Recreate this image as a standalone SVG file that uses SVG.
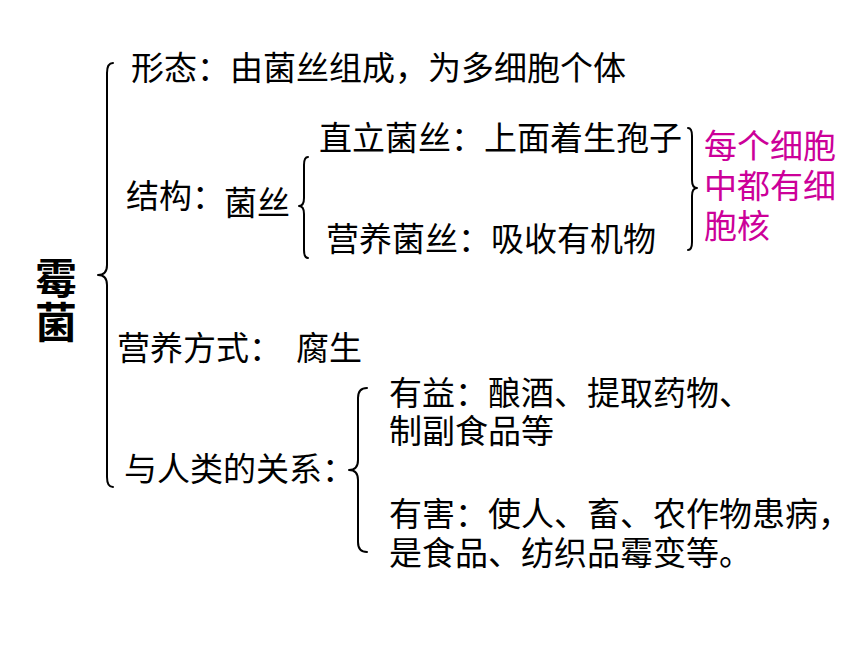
<svg xmlns="http://www.w3.org/2000/svg" width="860" height="645" viewBox="0 0 860 645">
<style>
.t{font-family:"Noto Sans CJK SC","Noto Sans CJK JP",sans-serif;font-size:33px;fill:#000}
.title{font-family:"Noto Sans CJK SC","Noto Sans CJK JP",sans-serif;font-size:42px;font-weight:bold;fill:#000;text-anchor:middle}
.pink{fill:#CC0099}
.brace{fill:none;stroke:#000;stroke-width:2;stroke-linecap:round;stroke-linejoin:round}
</style>
<rect width="860" height="645" fill="#fff"/>
<g id="connectors">
<path class="brace" d="M113,63 Q107,63 107,73 L107,265 Q107,275 98,275 Q107,275 107,285 L107,477 Q107,487 113,487"/>
<path class="brace" d="M308,157 Q304,157 304,165 L304,198 Q304,206 299,206 Q304,206 304,214 L304,250 Q304,258 308,258"/>
<path class="brace" d="M367,388 Q358,388 358,398 L358,460 Q358,470 349,470 Q358,470 358,480 L358,542 Q358,552 367,552"/>
<path class="brace" d="M688,128 Q692,128 692,136 L692,180 Q692,188 697,188 Q692,188 692,196 L692,242 Q692,250 688,250"/>
</g>
<g id="root">
<text class="title" x="56" y="294">霉</text>
<text class="title" x="56" y="338">菌</text>
</g>
<g id="morphology">
<text class="t" x="131" y="80">形态：由菌丝组成，为多细胞个体</text>
</g>
<g id="structure">
<text class="t" x="126" y="208">结构：</text>
</g>
<g id="hyphae">
<text class="t" x="224" y="215">菌丝</text>
</g>
<g id="aerial">
<text class="t" x="319" y="150">直立菌丝：上面着生孢子</text>
</g>
<g id="vegetative">
<text class="t" x="326" y="251">营养菌丝：吸收有机物</text>
</g>
<g id="nucleus-note">
<text class="t pink" x="704" y="158">每个细胞</text>
<text class="t pink" x="704" y="198">中都有细</text>
<text class="t pink" x="704" y="238">胞核</text>
</g>
<g id="nutrition">
<text class="t" x="117" y="360">营养方式：<tspan x="296">腐生</tspan></text>
</g>
<g id="relation">
<text class="t" x="124" y="481">与人类的关系：</text>
</g>
<g id="beneficial">
<text class="t" x="389" y="405">有益：酿酒、提取药物、</text>
<text class="t" x="389" y="443">制副食品等</text>
</g>
<g id="harmful">
<text class="t" x="389" y="526">有害：使人、畜、农作物患病，</text>
<text class="t" x="389" y="565">是食品、纺织品霉变等。</text>
</g>
</svg>
